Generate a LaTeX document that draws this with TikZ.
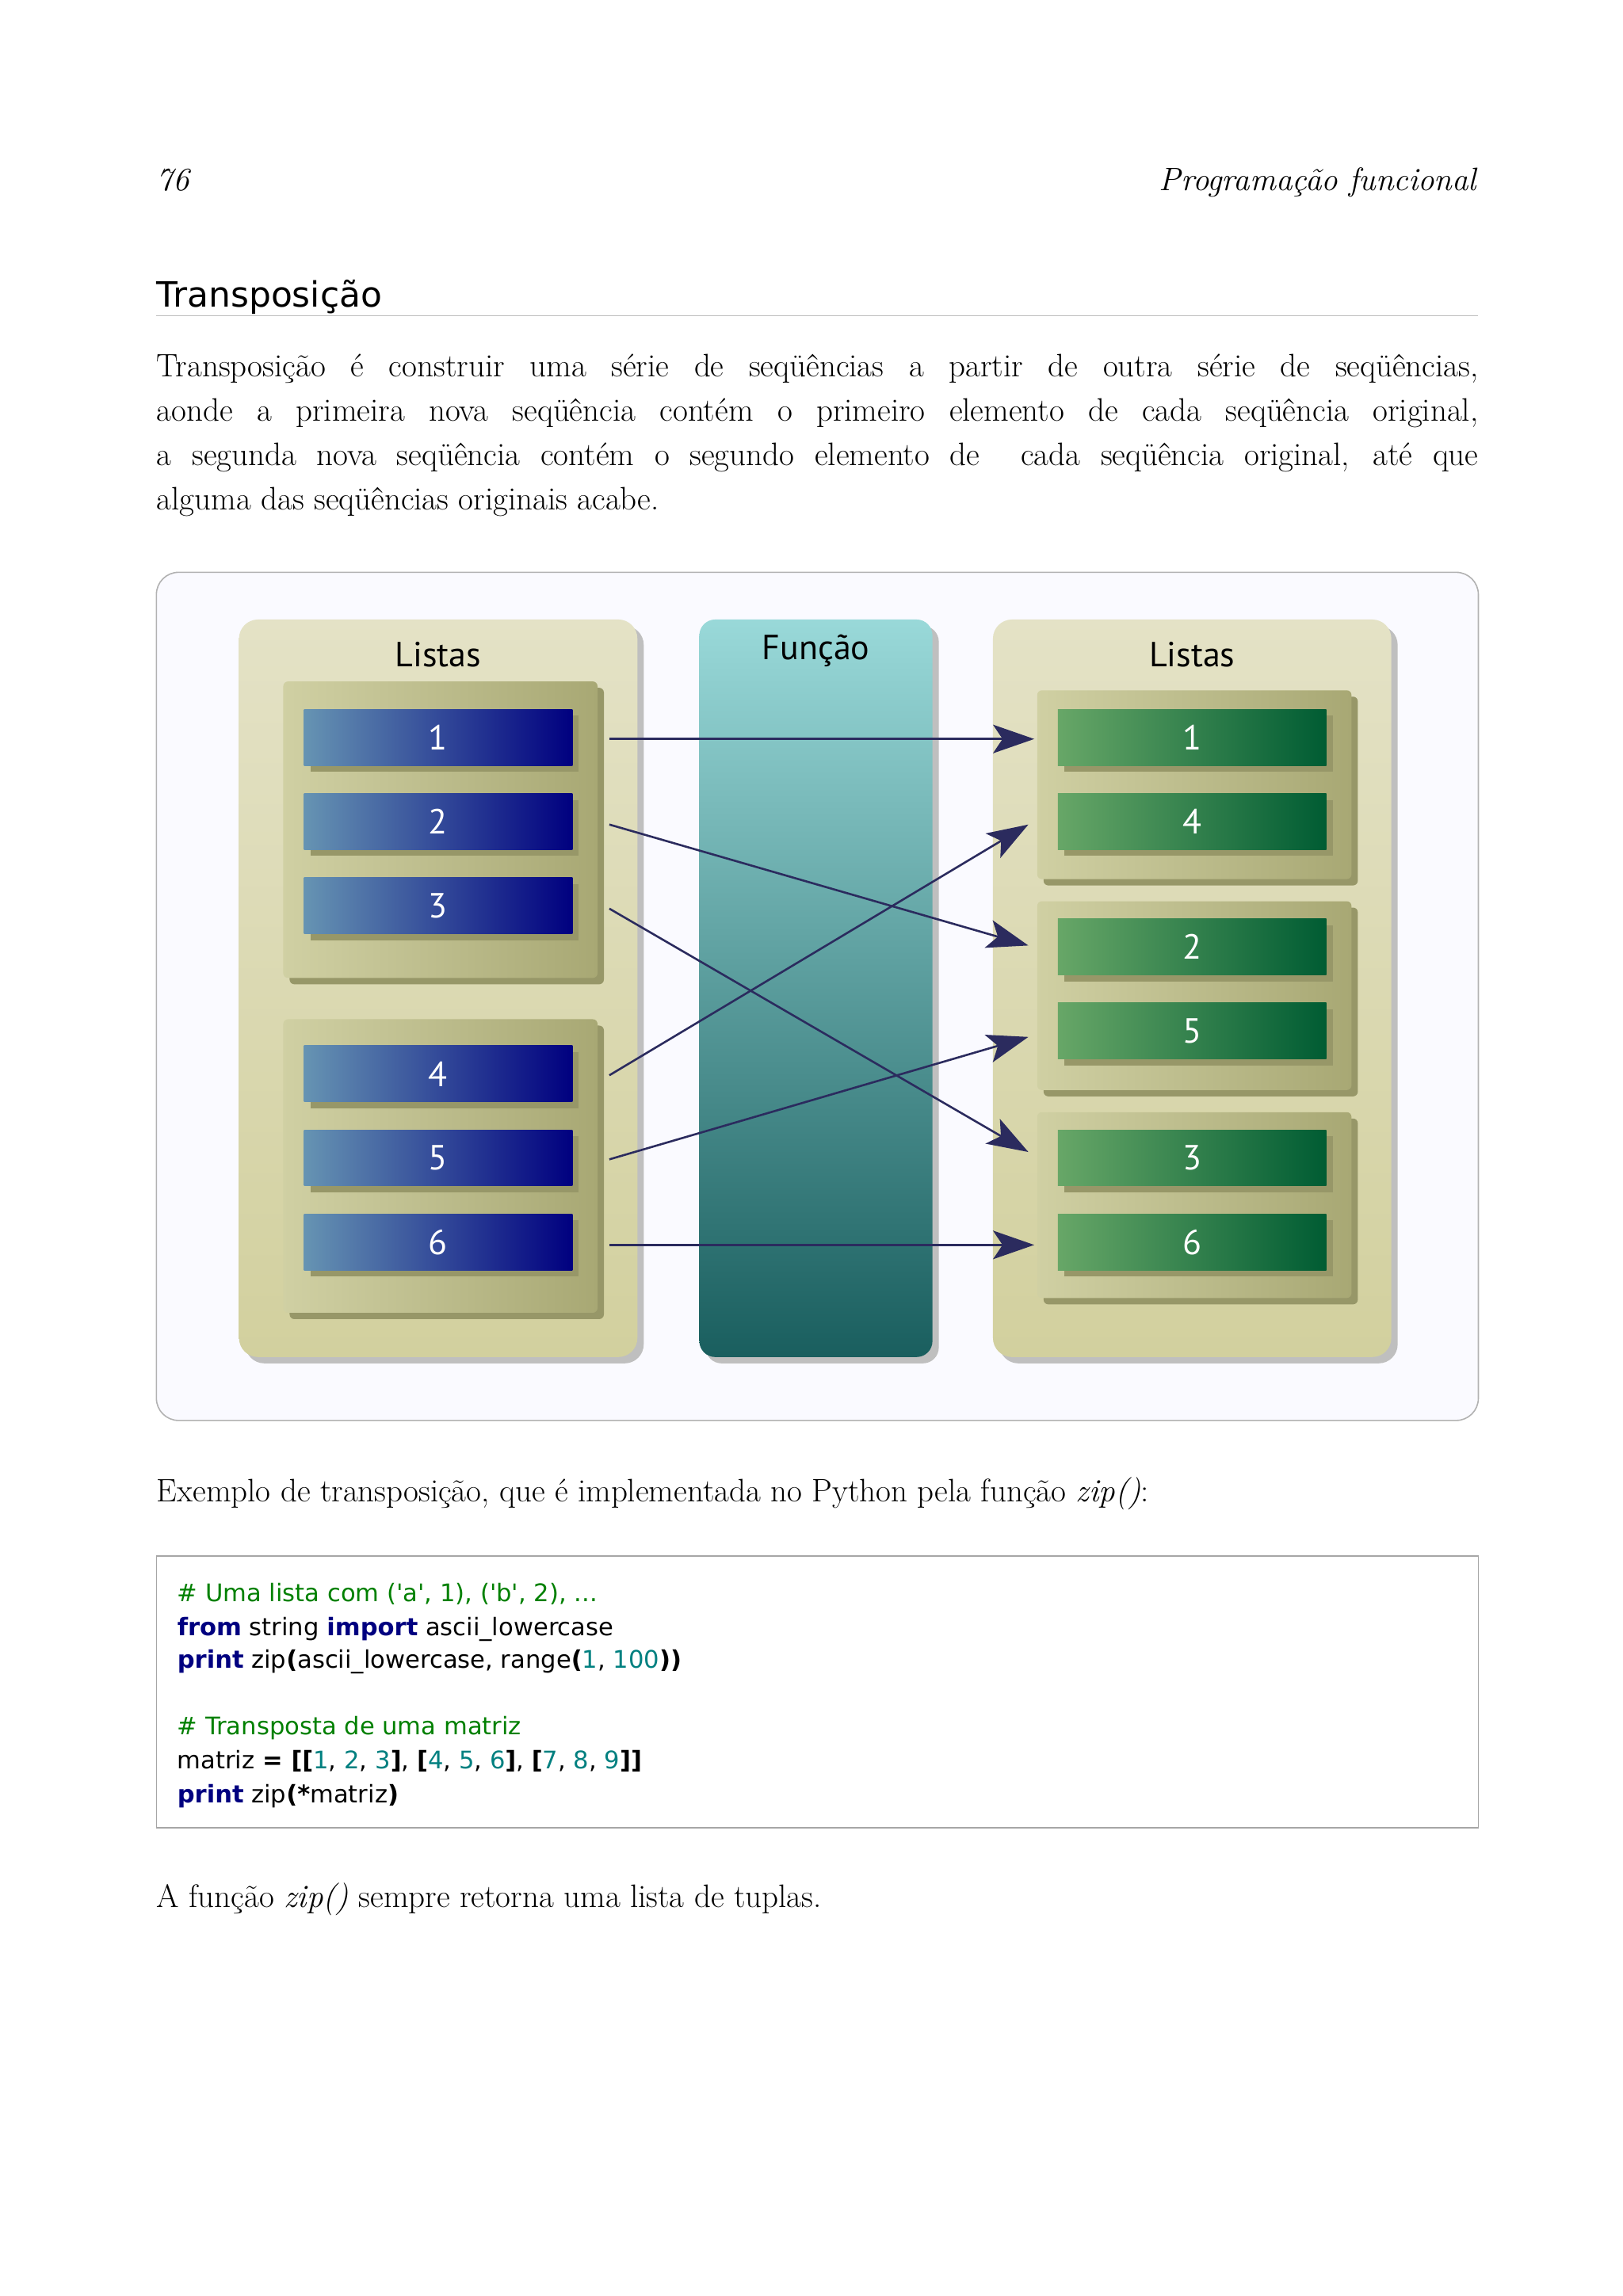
\documentclass[tikz,border=0pt]{standalone}
\usepackage{fontspec}
\newfontfamily\dsans{DejaVu Sans}
\newfontfamily\psans{PT Sans}
\usetikzlibrary{shadows,arrows.meta}
\definecolor{arr}{HTML}{2B2B5E}
\definecolor{olive}{HTML}{C4C48C}
\definecolor{olived}{HTML}{A8A874}
\definecolor{tanl}{HTML}{E4E2C6}
\definecolor{tand}{HTML}{D2D09E}
\definecolor{kw}{HTML}{000080}
\definecolor{cm}{HTML}{008000}
\definecolor{nm}{HTML}{008080}
\begin{document}
\begin{tikzpicture}[x=0.931pt,y=-0.931pt,
  panel/.style={rounded corners=12pt,top color=tanl,bottom color=tand,
     drop shadow={shadow xshift=4pt,shadow yshift=-4pt,fill=black!25,opacity=1}},
  grp/.style={rounded corners=3pt,left color=olive!80,right color=olived,
     drop shadow={shadow xshift=4pt,shadow yshift=-4pt,fill=olived!90!black,opacity=1}},
  bluebox/.style={minimum width=169.4pt,minimum height=35.4pt,inner sep=0pt,
     left color=blue!40!cyan!50!black!60!white,right color=blue!50!black,
     text=white,font=\psans\fontsize{22}{24}\selectfont,
     drop shadow={shadow xshift=4pt,shadow yshift=-4pt,fill=olived!90!black,opacity=1}},
  greenbox/.style={bluebox,left color=green!30!black!55!white!90!green,right color=green!20!black!80!cyan},
  lbl/.style={font=\psans\fontsize{22}{24}\selectfont,inner sep=0pt},
  con/.style={arr,line width=1.3pt,-{Stealth[length=26pt,width=18pt,inset=6pt]}},
  txt/.style={font=\fontsize{20.5}{28}\selectfont,inner sep=0pt,anchor=base west},
  code/.style={font=\dsans\fontsize{15.3}{21}\selectfont,inner sep=0pt,anchor=base west}]
\useasboundingbox (0,0) rectangle (1100,1556.6);
\fill[white] (0,0) rectangle (1100,1556.6);
% header
\node[txt,font=\itshape\fontsize{20.5}{24}\selectfont] (pg) at (106,129) {76};
\node[txt,anchor=base east,font=\itshape\fontsize{20.5}{24}\selectfont] (rh) at (1001,129) {Programação funcional};
\node[txt,font=\dsans\fontsize{22}{26}\selectfont] (h) at (106,208) {Transposição};
\draw[black!25,line width=0.8pt] (106,214) -- (1002,214);
\node[txt,anchor=north west,text width=834pt,align=justify] (par) at (106,240) {Transposição é construir uma série de seqüências a partir de outra série de seqüências,\linebreak aonde a primeira nova seqüência contém o primeiro elemento de cada seqüência original,\linebreak a segunda nova seqüência contém o segundo elemento de\ \ cada seqüência original, até que\linebreak alguma das seqüências originais acabe.};
% diagram frame
\draw[black!30,fill=blue!2,rounded corners=14pt,line width=0.8pt] (106,388) rectangle (1002,963);
% panels
\path[panel] (162,420) rectangle (432,920);
\path[panel] (673,420) rectangle (943,920);
\path[rounded corners=10pt,top color=cyan!25!teal!40,bottom color=teal!60!black!90,
   drop shadow={shadow xshift=4pt,shadow yshift=-4pt,fill=black!25,opacity=1}] (474,420) rectangle (632,920);
\node[lbl] (l1) at (297,444) {Listas};
\node[lbl] (l2) at (808,444) {Listas};
\node[lbl] (fn) at (553,441) {Função};
% groups
\path[grp] (192,462) rectangle (405,663);
\path[grp] (192,691) rectangle (405,890);
\path[grp] (703,468) rectangle (916,596);
\path[grp] (703,611) rectangle (916,739);
\path[grp] (703,754) rectangle (916,880);
% boxes
\node[bluebox] (a1) at (297,500) {1};
\node[bluebox] (a2) at (297,557) {2};
\node[bluebox] (a3) at (297,614) {3};
\node[bluebox] (a4) at (297,728) {4};
\node[bluebox] (a5) at (297,785) {5};
\node[bluebox] (a6) at (297,842) {6};
\node[greenbox] (g1) at (808,500) {1};
\node[greenbox] (g4) at (808,557) {4};
\node[greenbox] (g2) at (808,642) {2};
\node[greenbox] (g5) at (808,699) {5};
\node[greenbox] (g3) at (808,785) {3};
\node[greenbox] (g6) at (808,842) {6};
% arrows
\coordinate (s1) at (413,501); \coordinate (e1) at (701,501);
\coordinate (s2) at (413,559); \coordinate (e2) at (697,641);
\coordinate (s3) at (413,616); \coordinate (e3) at (697,781);
\coordinate (s4) at (413,729); \coordinate (e4) at (697,559);
\coordinate (s5) at (413,786); \coordinate (e5) at (697,703);
\coordinate (s6) at (413,844); \coordinate (e6) at (701,844);
\foreach \i in {1,...,6} {\draw[con] (s\i) -- (e\i);}
% caption
\node[txt] (cap) at (106,1018) {Exemplo de transposição, que é implementada no Python pela função \textit{zip()}:};
\draw[black!35,line width=0.8pt] (106,1055) rectangle (1002,1239);
\node[code] (c1) at (120,1086) {\color{cm}\# Uma lista com ('a', 1), ('b', 2), ...};
\node[code] (c2) at (120,1109) {\textbf{\color{kw}from} string \textbf{\color{kw}import} ascii\_lowercase};
\node[code] (c3) at (120,1131) {\textbf{\color{kw}print} zip\textbf{(}ascii\_lowercase, range\textbf{(}\color{nm}1\color{black}, \color{nm}100\color{black}\textbf{))}};
\node[code] (c4) at (120,1176) {\color{cm}\# Transposta de uma matriz};
\node[code] (c5) at (120,1199) {matriz \textbf{= [[}\color{nm}1\color{black}, \color{nm}2\color{black}, \color{nm}3\color{black}\textbf{]}, \textbf{[}\color{nm}4\color{black}, \color{nm}5\color{black}, \color{nm}6\color{black}\textbf{]}, \textbf{[}\color{nm}7\color{black}, \color{nm}8\color{black}, \color{nm}9\color{black}\textbf{]]}};
\node[code] (c6) at (120,1222) {\textbf{\color{kw}print} zip\textbf{(*}matriz\textbf{)}};
\node[txt] (last) at (106,1293) {A função \textit{zip()} sempre retorna uma lista de tuplas.};
\end{tikzpicture}
\end{document}
